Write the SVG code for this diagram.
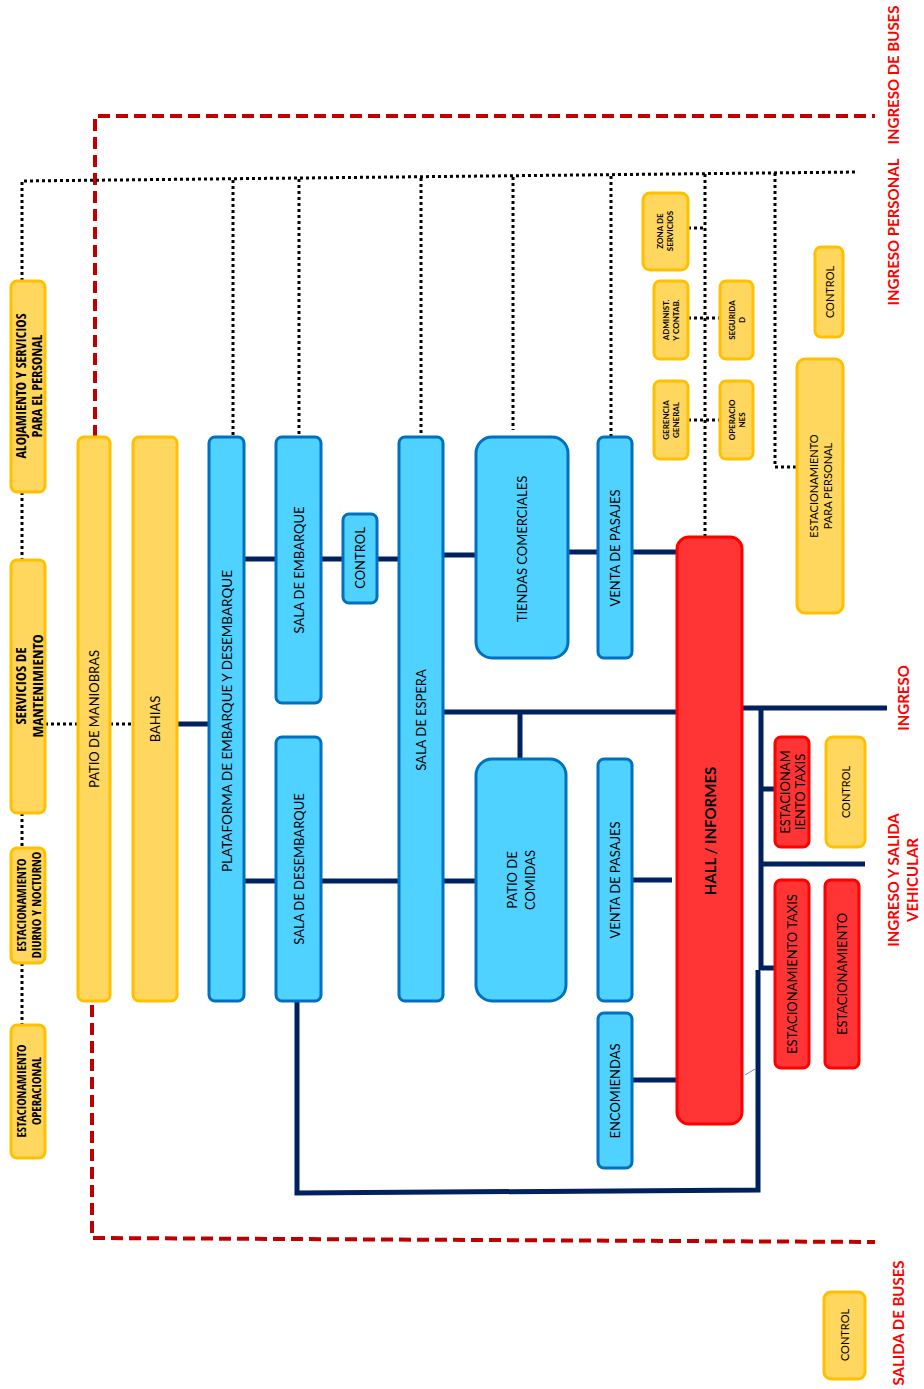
<svg xmlns="http://www.w3.org/2000/svg" width="924" height="1389" viewBox="0 0 924 1389">
<style>
.y{fill:#FFD75E;stroke:#FFC000;stroke-width:3}
.b{fill:#4FD2FF;stroke:#0070C0;stroke-width:3}
.r{fill:#FF3535;stroke:#FF0000;stroke-width:3}
.t{font-family:Lato,"Liberation Sans",sans-serif;font-size:13px;fill:#000;text-anchor:middle;dominant-baseline:central}
.tn{font-family:"Liberation Sans Narrow","Open Sans Condensed",Lato,sans-serif;font-size:14px;fill:#000;text-anchor:middle;dominant-baseline:central;font-weight:bold}
.ts{font-family:Lato,"Liberation Sans",sans-serif;font-size:8px;font-weight:bold;fill:#000;text-anchor:middle;dominant-baseline:central}
.lab{font-family:Lato,"Liberation Sans",sans-serif;font-size:15px;font-weight:bold;fill:#FF0000;text-anchor:middle;dominant-baseline:central}
.n{stroke:#002060;stroke-width:5;fill:none}
.d{stroke:#000;stroke-width:3;stroke-dasharray:3 3;fill:none}
.rd{stroke:#C00000;stroke-width:4;stroke-dasharray:12 6;fill:none}
</style>
<rect width="924" height="1389" fill="#fff"/>
<g id="connectors">
<path class="rd" d="M95,437 V116 H875"/>
<path class="rd" d="M92,1005 V1238 L875,1242"/>
<path class="d" d="M22,281 V181 L858,172"/>
<path class="d" d="M22,492 V560 M22,813 V848 M22,963 V1025"/>
<path class="d" d="M45,724 H78 M110,724 H133"/>
<path class="d" d="M233,180 V437 M299,179 V437 M421,178 V437 M513,177 V430 M611,176 V437 M705,174 V537 M775,173 V467 H797"/>
<path class="d" d="M688,228 H705 M688,318 H720 M688,420 H720"/>
<path class="n" d="M177,724 H209 M244,559 H276 M321,559 H343 M377,559 H399 M443,555 H476 M568,552 H598 M632,552 H677"/>
<path class="n" d="M443,712 H677 M520,712 V759"/>
<path class="n" d="M244,881 H276 M321,881 H399 M443,881 H476 M632,880 H672 M632,1080 H677"/>
<path class="n" d="M742,708 H887 M761,708 V970 M761,789 H775 M761,864 H865 M761,968 H775"/>
<path class="n" d="M758,970 V1190 L297,1193 V1001"/>
<path d="M745,1075 L755,1069" stroke="#6A8FD0" stroke-width="1"/>
</g>
<g id="n-alojamiento"><rect class="y" x="11" y="281" width="34" height="211" rx="6"/><text class="tn" transform="translate(28,386) rotate(-90)"><tspan x="0" y="-8">ALOJAMIENTO Y SERVICIOS</tspan><tspan x="0" y="8">PARA EL PERSONAL</tspan></text></g>
<g id="n-mantenimiento"><rect class="y" x="11" y="560" width="34" height="253" rx="6"/><text class="tn" style="font-size:15px" transform="translate(28,686) rotate(-90)"><tspan x="0" y="-8">SERVICIOS DE</tspan><tspan x="0" y="9">MANTENIMIENTO</tspan></text></g>
<g id="n-diurno"><rect class="y" x="11" y="848" width="34" height="115" rx="6"/><text class="tn" style="font-size:12.5px" transform="translate(28,905) rotate(-90)"><tspan x="0" y="-7">ESTACIONAMIENTO</tspan><tspan x="0" y="8">DIURNO Y NOCTURNO</tspan></text></g>
<g id="n-operacional"><rect class="y" x="11" y="1025" width="34" height="133" rx="6"/><text class="tn" style="font-size:12.5px" transform="translate(28,1091) rotate(-90)"><tspan x="0" y="-7">ESTACIONAMIENTO</tspan><tspan x="0" y="8">OPERACIONAL</tspan></text></g>
<g id="n-patio-maniobras"><rect class="y" x="78" y="437" width="32" height="564" rx="6"/><text class="t" transform="translate(94,719) rotate(-90)">PATIO DE MANIOBRAS</text></g>
<g id="n-bahias"><rect class="y" x="133" y="437" width="44" height="564" rx="6"/><text class="t" transform="translate(155,719) rotate(-90)">BAHIAS</text></g>
<g id="n-plataforma"><rect class="b" x="209" y="437" width="35" height="564" rx="6"/><text class="t" style="font-size:13.5px" transform="translate(227,721) rotate(-90)">PLATAFORMA  DE EMBARQUE  Y DESEMBARQUE</text></g>
<g id="n-sala-embarque"><rect class="b" x="276" y="437" width="45" height="266" rx="6"/><text class="t" transform="translate(299,570) rotate(-90)">SALA DE EMBARQUE</text></g>
<g id="n-control-azul"><rect class="b" x="343" y="514" width="34" height="89" rx="6"/><text class="t" transform="translate(360,558) rotate(-90)">CONTROL</text></g>
<g id="n-sala-desembarque"><rect class="b" x="276" y="737" width="45" height="264" rx="6"/><text class="t" transform="translate(299,869) rotate(-90)">SALA DE DESEMBARQUE</text></g>
<g id="n-sala-espera"><rect class="b" x="399" y="437" width="44" height="564" rx="6"/><text class="t" transform="translate(421,720) rotate(-90)">SALA DE ESPERA</text></g>
<g id="n-tiendas"><rect class="b" x="476" y="437" width="92" height="221" rx="16"/><text class="t" transform="translate(522,549) rotate(-90)">TIENDAS COMERCIALES</text></g>
<g id="n-venta1"><rect class="b" x="598" y="437" width="34" height="221" rx="6"/><text class="t" transform="translate(615,548) rotate(-90)">VENTA DE PASAJES</text></g>
<g id="n-patio-comidas"><rect class="b" x="476" y="759" width="90" height="242" rx="16"/><text class="t" transform="translate(521,880) rotate(-90)"><tspan x="0" y="-9">PATIO DE</tspan><tspan x="0" y="9">COMIDAS</tspan></text></g>
<g id="n-venta2"><rect class="b" x="598" y="759" width="34" height="242" rx="6"/><text class="t" transform="translate(615,880) rotate(-90)">VENTA DE PASAJES</text></g>
<g id="n-encomiendas"><rect class="b" x="598" y="1013" width="34" height="155" rx="6"/><text class="t" transform="translate(615,1091) rotate(-90)">ENCOMIENDAS</text></g>
<g id="n-hall"><rect class="r" x="677" y="537" width="65" height="587" rx="12"/><text class="t" style="font-size:15px;font-weight:bold" transform="translate(710,831) rotate(-90)">HALL / INFORMES</text></g>
<g id="n-zona-servicios"><rect class="y" x="643" y="193" width="45" height="77" rx="7"/><text class="ts" transform="translate(665,231) rotate(-90)"><tspan x="0" y="-5">ZONA DE</tspan><tspan x="0" y="5">SERVICIOS</tspan></text></g>
<g id="n-administ"><rect class="y" x="654" y="281" width="34" height="78" rx="6"/><text class="ts" transform="translate(671,320) rotate(-90)"><tspan x="0" y="-5">ADMINIST.</tspan><tspan x="0" y="5">Y CONTAB.</tspan></text></g>
<g id="n-seguridad"><rect class="y" x="720" y="281" width="33" height="78" rx="6"/><text class="ts" transform="translate(737,320) rotate(-90)"><tspan x="0" y="-5">SEGURIDA</tspan><tspan x="0" y="5">D</tspan></text></g>
<g id="n-gerencia"><rect class="y" x="654" y="381" width="34" height="78" rx="6"/><text class="ts" transform="translate(671,420) rotate(-90)"><tspan x="0" y="-5">GERENCIA</tspan><tspan x="0" y="5">GENERAL</tspan></text></g>
<g id="n-operaciones"><rect class="y" x="720" y="381" width="33" height="78" rx="6"/><text class="ts" transform="translate(737,420) rotate(-90)"><tspan x="0" y="-5">OPERACIO</tspan><tspan x="0" y="5">NES</tspan></text></g>
<g id="n-control-top"><rect class="y" x="815" y="247" width="28" height="90" rx="6"/><text class="t" style="font-size:11px" transform="translate(829,292) rotate(-90)">CONTROL</text></g>
<g id="n-est-personal"><rect class="y" x="797" y="359" width="46" height="254" rx="8"/><text class="t" style="font-size:11px" transform="translate(820,486) rotate(-90)"><tspan x="0" y="-7">ESTACIONAMIENTO</tspan><tspan x="0" y="7">PARA PERSONAL</tspan></text></g>
<g id="n-est-taxis-1"><rect class="r" x="775" y="737" width="34" height="110" rx="6"/><text class="t" transform="translate(792,792) rotate(-90)"><tspan x="0" y="-7">ESTACIONAM</tspan><tspan x="0" y="8">IENTO TAXIS</tspan></text></g>
<g id="n-control-mid"><rect class="y" x="826" y="737" width="39" height="110" rx="7"/><text class="t" style="font-size:11px" transform="translate(845,792) rotate(-90)">CONTROL</text></g>
<g id="n-est-taxis-2"><rect class="r" x="775" y="880" width="34" height="188" rx="6"/><text class="t" transform="translate(792,974) rotate(-90)">ESTACIONAMIENTO TAXIS</text></g>
<g id="n-estacionamiento"><rect class="r" x="825" y="880" width="34" height="188" rx="6"/><text class="t" transform="translate(842,974) rotate(-90)">ESTACIONAMIENTO</text></g>
<g id="n-control-bottom"><rect class="y" x="824" y="1292" width="41" height="87" rx="7"/><text class="t" style="font-size:11px" transform="translate(844,1335) rotate(-90)">CONTROL</text></g>
<g id="labels">
<text class="lab" transform="translate(893,75) rotate(-90)">INGRESO DE BUSES</text>
<text class="lab" transform="translate(893,232) rotate(-90)">INGRESO PERSONAL</text>
<text class="lab" transform="translate(903,698) rotate(-90)">INGRESO</text>
<text class="lab" transform="translate(903,880) rotate(-90)"><tspan x="0" y="-10">INGRESO Y SALIDA</tspan><tspan x="0" y="9">VEHICULAR</tspan></text>
<text class="lab" transform="translate(898,1323) rotate(-90)">SALIDA DE BUSES</text>
</g>
</svg>
